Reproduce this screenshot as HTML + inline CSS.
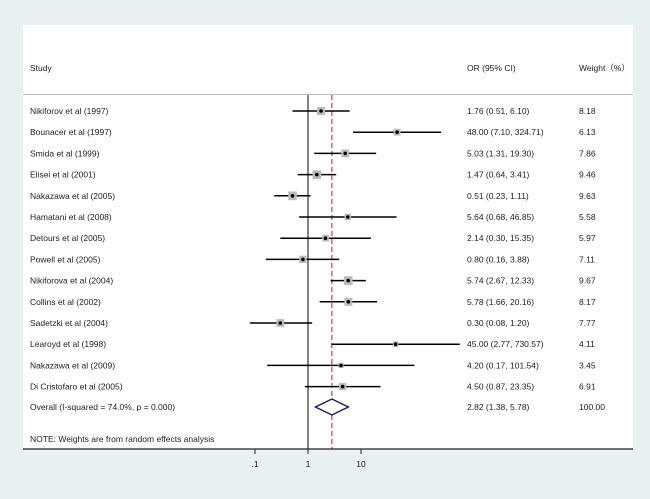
<!DOCTYPE html>
<html><head><meta charset="utf-8"><style>
body{margin:0;background:#e8f0f2;font-family:"Liberation Sans",Arial,sans-serif;}
svg{display:block}
text{font-size:8.5px;fill:#222;font-family:"Liberation Sans","Noto Sans CJK SC",sans-serif}
</style></head><body>
<svg id="chart" width="650" height="499" xmlns="http://www.w3.org/2000/svg">
<rect x="0" y="0" width="650" height="499" fill="#e8f0f2"/>
<rect x="23" y="25" width="610" height="424" fill="#fff"/>
<text x="30" y="71">Study</text>
<text x="467" y="71">OR (95% CI)</text>
<text x="579" y="71">Weight（%）</text>
<line x1="23" y1="94.5" x2="633" y2="94.5" stroke="#bbb" stroke-width="1"/>
<g id="marks"></g>
<text x="30" y="442">NOTE: Weights are from random effects analysis</text>
</svg>
<script>
const studies=["Nikiforov et al (1997)","Bounacer et al (1997)","Smida et al (1999)","Elisei et al (2001)","Nakazawa et al (2005)","Hamatani et al (2008)","Detours et al (2005)","Powell et al (2005)","Nikiforova et al (2004)","Collins et al (2002)","Sadetzki et al (2004)","Learoyd et al (1998)","Nakazawa et al (2009)","Di Cristofaro et al (2005)"];
const orVals=[1.76,48.00,5.03,1.47,0.51,5.64,2.14,0.80,5.74,5.78,0.30,45.00,4.20,4.50];
const lowVals=[0.51,7.10,1.31,0.64,0.23,0.68,0.30,0.16,2.67,1.66,0.08,2.77,0.17,0.87];
const highVals=[6.10,324.71,19.30,3.41,1.11,46.85,15.35,3.88,12.33,20.16,1.20,730.57,101.54,23.35];
const weights=[8.18,6.13,7.86,9.46,9.63,5.58,5.97,7.11,9.67,8.17,7.77,4.11,3.45,6.91];
const overall=[2.82,1.38,5.78];
const ticks=[0.1,1,10];
const tickLabels=[".1","1","10"];
const NS="http://www.w3.org/2000/svg";
const g=document.getElementById('marks');
const x=v=>308+53*Math.log10(v);
const y=i=>111+21.2*i;
function mk(t,a){const e=document.createElementNS(NS,t);for(const k in a)e.setAttribute(k,a[k]);g.appendChild(e);return e;}
function fmt(v){return v.toFixed(2);}
let e;
e=mk('line',{x1:x(1),y1:95,x2:x(1),y2:449,stroke:'#333','stroke-width':1.2});


e=mk('line',{x1:x(overall[0]),y1:95,x2:x(overall[0]),y2:449,stroke:'#b04a4a','stroke-width':1.2,'stroke-dasharray':'5,3'});


studies.forEach((s,i)=>{
 const yy=y(i);
 let t=mk('text',{x:30,y:yy+3});t.textContent=s;
 
 
 let l=mk('line',{x1:x(lowVals[i]),y1:yy,x2:x(highVals[i]),y2:yy,stroke:'#000','stroke-width':1.5});
 
 
 const sz=Math.sqrt(weights[i])*2.8;
 let r=mk('rect',{x:x(orVals[i])-sz/2,y:yy-sz/2,width:sz,height:sz,fill:'#bbb'});
 
 
 let c=mk('circle',{cx:x(orVals[i]),cy:yy,r:1.8,fill:'#000'});
 
 
 let o=mk('text',{x:467,y:yy+3});o.textContent=fmt(orVals[i])+' ('+fmt(lowVals[i])+', '+fmt(highVals[i])+')';
 
 
 let w=mk('text',{x:579,y:yy+3});w.textContent=fmt(weights[i]);
 
 
});
const oy=407;
let t=mk('text',{x:30,y:oy+3});t.textContent='Overall  (I-squared = 74.0%, p = 0.000)';


let d=mk('polygon',{points:`${x(overall[1])},${oy} ${x(overall[0])},${oy-8} ${x(overall[2])},${oy} ${x(overall[0])},${oy+8}`,fill:'#fff',stroke:'#1a1a5e','stroke-width':1.4});


t=mk('text',{x:467,y:oy+3});t.textContent=fmt(overall[0])+' ('+fmt(overall[1])+', '+fmt(overall[2])+')';


t=mk('text',{x:579,y:oy+3});t.textContent='100.00';


let ax=mk('line',{x1:23,y1:449,x2:633,y2:449,stroke:'#222','stroke-width':1.2});


ticks.forEach((v,i)=>{
 let tk=mk('line',{x1:x(v),y1:449,x2:x(v),y2:454,stroke:'#222','stroke-width':1});
 
 
 let tl=mk('text',{x:x(v),y:467,'text-anchor':'middle'});tl.textContent=tickLabels[i];
 
 
});
</script>
</body></html>
